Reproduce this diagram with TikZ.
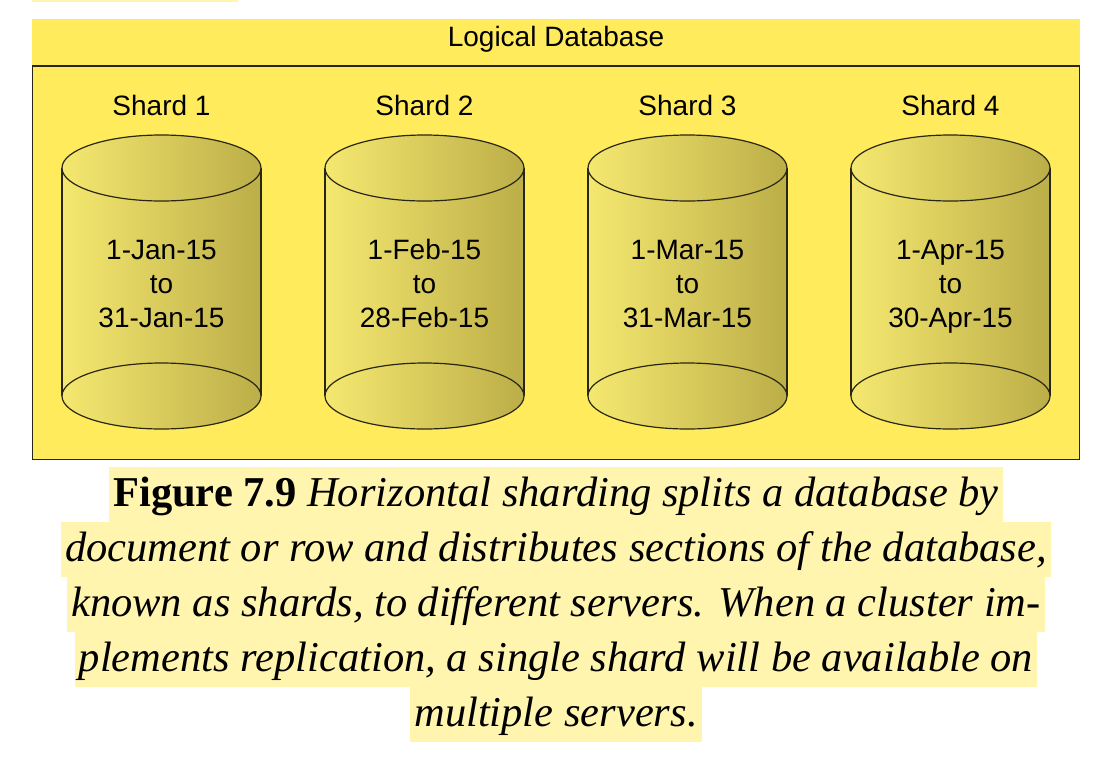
\documentclass[tikz,border=0pt]{standalone}
\usepackage{fontspec}
\setmainfont{Liberation Sans}
\newfontfamily\capfont{Liberation Serif}
\definecolor{dbyellow}{RGB}{255,235,92}
\definecolor{cylL}{RGB}{245,232,112}
\definecolor{cylR}{RGB}{188,174,72}
\definecolor{hl}{RGB}{255,245,175}
\definecolor{edge}{RGB}{40,38,20}
\tikzset{
  cyl/.style={draw=edge, line width=1.2pt},
  cylshade/.style={left color=cylL, right color=cylR},
  lbl/.style={font=\fontsize{28}{34}\selectfont, inner sep=0pt},
  capline/.style={fill=hl, inner xsep=4pt, inner ysep=0pt, text height=39pt, text depth=16pt,
    font=\capfont\fontsize{42.5}{55}\selectfont, anchor=north},
}
\begin{document}
\begin{tikzpicture}[x=1pt,y=-1pt]
\useasboundingbox (0,0) rectangle (1112,766);
\fill[hl] (32,0) rectangle (238,1.5);
% logical database box
\fill[dbyellow] (32,19) rectangle (1080,460);
\draw[draw=edge, line width=1.5pt] (32.5,66) rectangle (1079.5,459.5);
\node[lbl, anchor=base] (title) at (556,46) {Logical Database};
% shards
\foreach \i/\cx/\a/\b in {1/161.5/1-Jan-15/31-Jan-15, 2/424.5/1-Feb-15/28-Feb-15, 3/687.5/1-Mar-15/31-Mar-15, 4/950.5/1-Apr-15/30-Apr-15}{
  \path[cylshade] (\cx-99.5,168) rectangle (\cx+99.5,396);
  \draw[cyl] (\cx-99.5,168) -- (\cx-99.5,396) (\cx+99.5,168) -- (\cx+99.5,396);
  \draw[cyl, cylshade] (\cx,396) ellipse [x radius=99.5pt, y radius=33pt];
  \draw[cyl, cylshade] (\cx,168) ellipse [x radius=99.5pt, y radius=33pt];
  \node[lbl, anchor=base] (s\i) at (\cx,115) {Shard \i};
  \node[lbl, align=center] (d\i) at (\cx,286.2) {\strut\a\\to\\\b\strut};
}
% caption
\node[capline] (c1) at (556,467) {\textbf{Figure 7.9} \textit{Horizontal sharding splits a database by}};
\node[capline] (c2) at (556,522) {\textit{document or row and distributes sections of the database,}};
\node[capline] (c3) at (556,577) {\textit{known as shards, to different servers. When a cluster im-}};
\node[capline] (c4) at (556,632) {\textit{plements replication, a single shard will be available on}};
\node[capline] (c5) at (556,687) {\textit{multiple servers.}};
\end{tikzpicture}
\end{document}
